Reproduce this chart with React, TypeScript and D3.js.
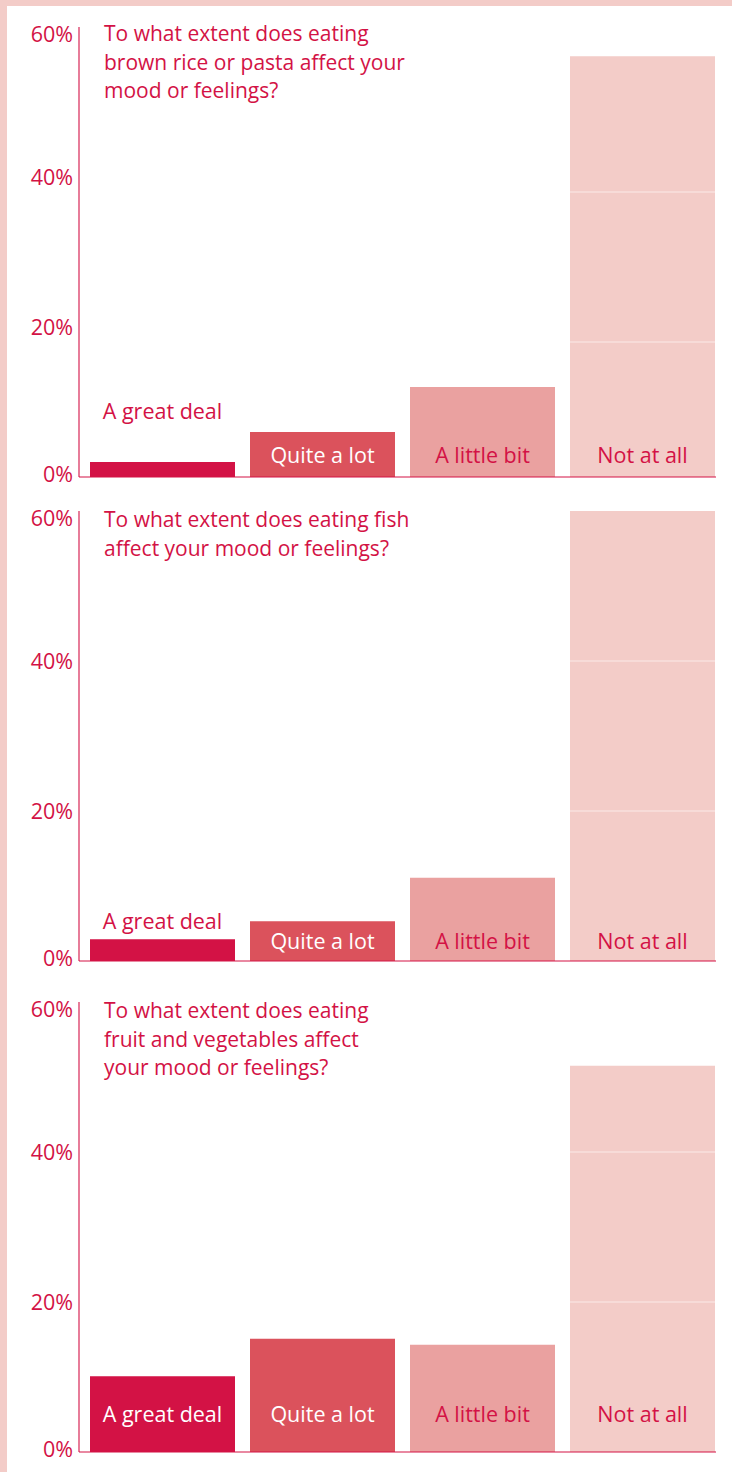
import React from "react";
import * as d3 from "d3";

const categories = ["A great deal", "Quite a lot", "A little bit", "Not at all"];
const titles = [
  ["To what extent does eating", "brown rice or pasta affect your", "mood or feelings?"],
  ["To what extent does eating fish", "affect your mood or feelings?"],
  ["To what extent does eating", "fruit and vegetables affect", "your mood or feelings?"],
];
const brownRiceValues = [2, 6, 12, 56.1];
const fishValues = [2.9, 5.3, 11.1, 60];
const fruitVegValues = [10.1, 15.1, 14.3, 51.5];
// white separators inside the "Not at all" bar
const brownRiceSeparators = [18, 38];
const fishSeparators = [20, 40];
const fruitVegSeparators = [20, 40];
const yTicks = [0, 20, 40, 60];

const W = 732;
const H = 1472;
const RED = "#d31245";
const COLORS = ["#d31245", "#db525c", "#eaa1a0", "#f3ccc8"];
const LABEL_COLORS = ["#ffffff", "#ffffff", "#d31245", "#d31245"];
const FONT = "'Open Sans', sans-serif";

const panels = [
  { values: brownRiceValues, seps: brownRiceSeparators, title: titles[0], base: 477, insideLift: 22, outsideGap: 51, titleDy: 7 },
  { values: fishValues, seps: fishSeparators, title: titles[1], base: 961, insideLift: 20, outsideGap: 18, titleDy: 9 },
  { values: fruitVegValues, seps: fruitVegSeparators, title: titles[2], base: 1452, insideLift: 38, outsideGap: 18, titleDy: 9 },
];

const PLOT_H = 450;
const AXIS_X = 79;

function Panel({ p }: { p: typeof panels[number] }) {
  const y = d3.scaleLinear().domain([0, 60]).range([p.base, p.base - PLOT_H]);
  const x = d3
    .scaleBand<string>()
    .domain(categories)
    .range([AXIS_X, 726])
    .paddingInner(15 / 160)
    .paddingOuter(11 / 160);
  const bw = x.bandwidth();
  const lastX = (x(categories[categories.length - 1]) as number) + bw;
  const top = y(60);
  return (
    <g>
      {categories.map((c, i) => {
        const v = p.values[i];
        const bx = x(c) as number;
        const labelInside = p.base - y(v) > 34;
        return (
          <g key={c}>
            <rect x={bx} y={y(v)} width={bw} height={p.base - y(v)} fill={COLORS[i]} />
            <text
              x={bx + bw / 2}
              y={labelInside ? p.base - p.insideLift : y(v) - p.outsideGap}
              dy="0.35em"
              textAnchor="middle"
              fill={labelInside ? LABEL_COLORS[i] : RED}
              fontFamily={FONT}
              fontSize={21.5}
            >
              {c}
            </text>
          </g>
        );
      })}
      {p.seps.map((s) => (
        <line
          key={s}
          x1={x(categories[3]) as number}
          x2={lastX}
          y1={y(s)}
          y2={y(s)}
          stroke="#fbe9e7"
          strokeWidth={1.2}
        />
      ))}
      <line x1={AXIS_X} x2={AXIS_X} y1={top} y2={p.base} stroke={RED} strokeWidth={1.1} />
      <line x1={AXIS_X} x2={lastX + 1} y1={p.base} y2={p.base} stroke={RED} strokeWidth={1.1} />
      {yTicks.map((t) => {
        const ty = Math.min(Math.max(y(t), top + 7), p.base - 3);
        return (
          <text
            key={t}
            x={73}
            y={ty}
            dy="0.35em"
            textAnchor="end"
            fill={RED}
            fontFamily={FONT}
            fontSize={21.5}
          >
            {t}%
          </text>
        );
      })}
      {p.title.map((line, i) => (
        <text
          key={i}
          x={104}
          y={top + p.titleDy + i * 28.5}
          dy="0.35em"
          fill={RED}
          fontFamily={FONT}
          fontSize={21}
        >
          {line}
        </text>
      ))}
    </g>
  );
}

export default function App() {
  return (
    <div style={{ position: "absolute", left: 0, top: 0 }}>
      <svg width={W} height={H} style={{ display: "block" }}>
        <rect x={0} y={0} width={W} height={H} fill="#f3ccc8" />
        <rect x={7} y={6} width={W - 7} height={H - 6} fill="#ffffff" />
        {panels.map((p, i) => (
          <Panel key={i} p={p} />
        ))}
      </svg>
    </div>
  );
}
